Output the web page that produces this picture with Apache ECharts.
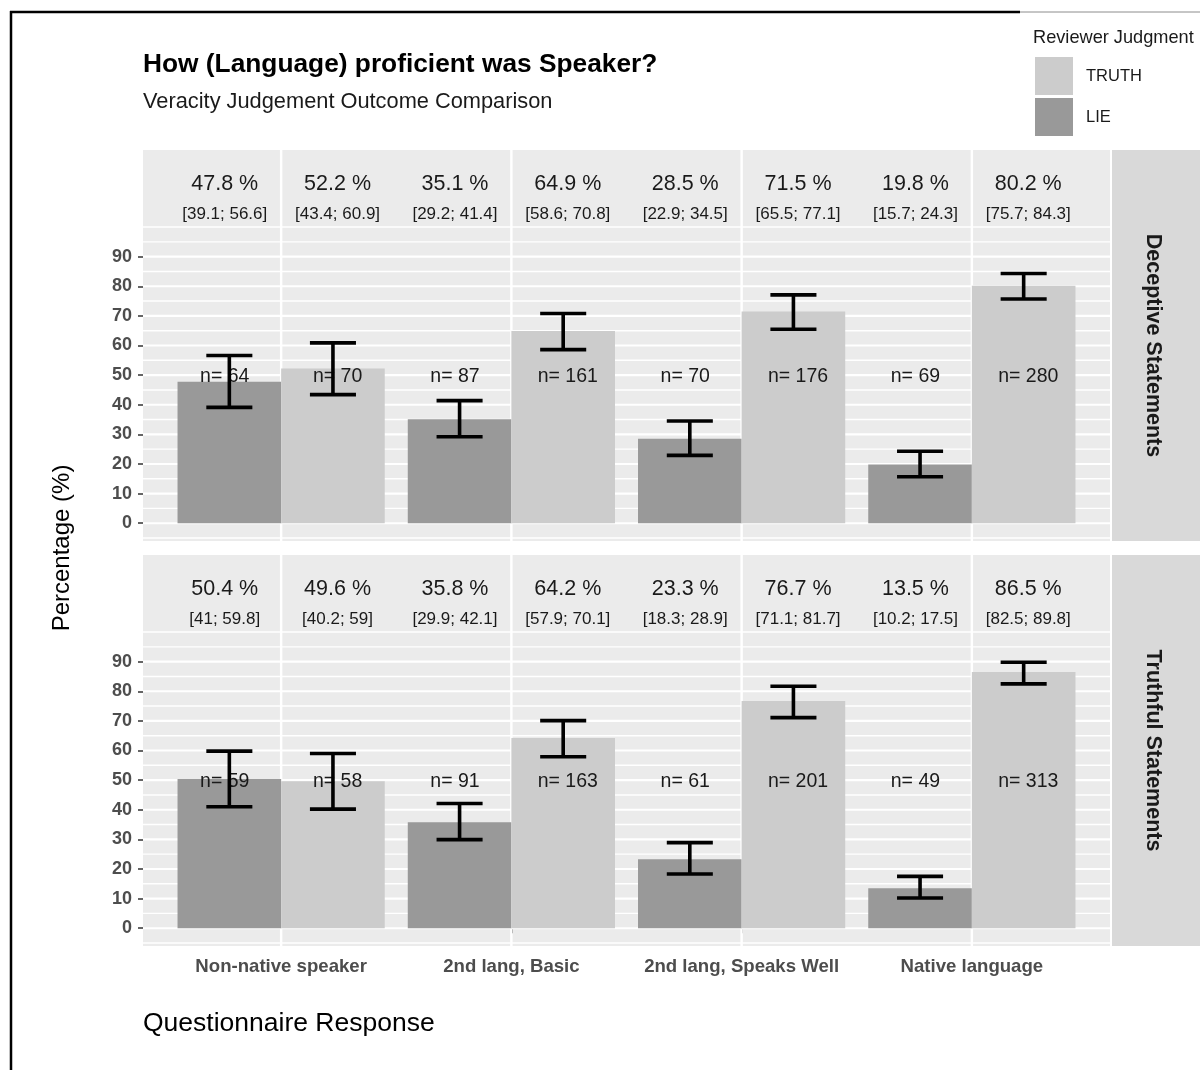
<!DOCTYPE html>
<html>
<head>
<meta charset="utf-8">
<script src="https://cdn.jsdelivr.net/npm/echarts@6/dist/echarts.min.js"></script>
<style>
  html, body { margin: 0; padding: 0; background: #fff; }
  #chart { width: 1200px; height: 1070px; }
</style>
</head>
<body>
<div id="chart"></div>
<script>
// ---- data -------------------------------------------------------------
const categories = ['Non-native speaker', '2nd lang, Basic', '2nd lang, Speaks Well', 'Native language'];
const panelNames = ['Deceptive Statements', 'Truthful Statements'];

// Deceptive statements panel
const decLiePct   = [47.8, 35.1, 28.5, 19.8];
const decLieLow   = [39.1, 29.2, 22.9, 15.7];
const decLieHigh  = [56.6, 41.4, 34.5, 24.3];
const decLieN     = [64, 87, 70, 69];
const decTruthPct  = [52.2, 64.9, 71.5, 80.2];
const decTruthLow  = [43.4, 58.6, 65.5, 75.7];
const decTruthHigh = [60.9, 70.8, 77.1, 84.3];
const decTruthN    = [70, 161, 176, 280];

// Truthful statements panel
const truLiePct   = [50.4, 35.8, 23.3, 13.5];
const truLieLow   = [41, 29.9, 18.3, 10.2];
const truLieHigh  = [59.8, 42.1, 28.9, 17.5];
const truLieN     = [59, 91, 61, 49];
const truTruthPct  = [49.6, 64.2, 76.7, 86.5];
const truTruthLow  = [40.2, 57.9, 71.1, 82.5];
const truTruthHigh = [59, 70.1, 81.7, 89.8];
const truTruthN    = [58, 163, 201, 313];

// axis breaks
const yTicks = [0, 10, 20, 30, 40, 50, 60, 70, 80, 90];
const yMinorBreaks = [-5, 5, 15, 25, 35, 45, 55, 65, 75, 85, 95, 100];
const xPositions = [1, 2, 3, 4];

// ---- styling ------------------------------------------------------------
const FONT = "'Liberation Sans', Arial, Helvetica, sans-serif";
const LIE_COLOR = '#999999';
const TRUTH_COLOR = '#cccccc';
const PANEL_BG = '#ebebeb';
const STRIP_BG = '#d9d9d9';
const TEXT_DARK = '#1a1a1a';
const AXIS_TEXT = '#4d4d4d';

const Y_MIN = -6, Y_MAX = 126;
const X_MIN = 0.4, X_MAX = 4.6;
const BAR_W = 0.45;      // each bar of a dodged pair
const CAP_W = 0.2;       // error bar cap width
const TEXT_DODGE = 0.245; // text labels are dodged slightly wider than the bars
const PCT_Y = 114.5;     // where the percentage label sits
const CI_Y = 104.3;      // where the interval label sits
const N_Y = 49.4;        // where the sample-size label sits

const PANEL_LEFT = 143, PANEL_W = 967, PANEL_H = 391;
const PANEL_TOPS = [150, 555];

function zip(pct, low, high, n) {
  return pct.map((v, i) => [xPositions[i], v, low[i], high[i], n[i]]);
}

function barRenderer(side) {
  return function (params, api) {
    const base = api.value(0);
    const x = base + side * BAR_W / 2;
    const v = api.value(1);
    const lo = api.value(2);
    const hi = api.value(3);
    const n = api.value(4);
    const color = api.visual('color');
    const tl = api.coord([x - BAR_W / 2, v]);
    const br = api.coord([x + BAR_W / 2, 0]);
    const cx = api.coord([x, 0])[0];
    const tx = api.coord([base + side * TEXT_DODGE, 0])[0];
    const capL = api.coord([x - CAP_W / 2, 0])[0];
    const capR = api.coord([x + CAP_W / 2, 0])[0];
    const yLo = api.coord([x, lo])[1];
    const yHi = api.coord([x, hi])[1];
    const ebStyle = { stroke: '#000', lineWidth: 3.6, lineCap: 'butt' };
    return {
      type: 'group',
      children: [
        { type: 'rect', shape: { x: tl[0], y: tl[1], width: br[0] - tl[0], height: br[1] - tl[1] },
          style: { fill: color } },
        { type: 'text', style: { text: 'n= ' + n, x: tx, y: api.coord([x, N_Y])[1],
          align: 'center', verticalAlign: 'middle', font: '19.5px ' + FONT, fill: TEXT_DARK } },
        { type: 'line', shape: { x1: cx, y1: yLo, x2: cx, y2: yHi }, style: ebStyle },
        { type: 'line', shape: { x1: capL, y1: yLo, x2: capR, y2: yLo }, style: ebStyle },
        { type: 'line', shape: { x1: capL, y1: yHi, x2: capR, y2: yHi }, style: ebStyle },
        { type: 'text', style: { text: v + ' %', x: tx, y: api.coord([x, PCT_Y])[1],
          align: 'center', verticalAlign: 'middle', font: '21.5px ' + FONT, fill: TEXT_DARK } },
        { type: 'text', style: { text: '[' + lo + '; ' + hi + ']', x: tx, y: api.coord([x, CI_Y])[1],
          align: 'center', verticalAlign: 'middle', font: '17px ' + FONT, fill: TEXT_DARK } }
      ]
    };
  };
}

// white panel grid lines drawn through the axis scales
function gridLineRenderer(kind) {
  return function (params, api) {
    const v = api.value(0);
    let p0, p1, w;
    if (kind === 'v') {
      p0 = api.coord([v, Y_MIN]); p1 = api.coord([v, Y_MAX]); w = 2.4;
    } else {
      p0 = api.coord([X_MIN, v]); p1 = api.coord([X_MAX, v]); w = kind === 'major' ? 2.2 : 1.4;
    }
    return { type: 'line', shape: { x1: p0[0], y1: p0[1], x2: p1[0], y2: p1[1] },
      style: { stroke: '#ffffff', lineWidth: w } };
  };
}

const grids = PANEL_TOPS.map(top => ({
  left: PANEL_LEFT, top: top, width: PANEL_W, height: PANEL_H,
  show: true, backgroundColor: PANEL_BG, borderWidth: 0
}));

const xAxes = [0, 1].map(g => ({
  type: 'value', gridIndex: g, min: X_MIN, max: X_MAX,
  splitLine: { show: false }, axisLine: { show: false },
  axisTick: { show: g === 1, customValues: xPositions, length: 5, lineStyle: { color: '#333', width: 1.5 } },
  axisLabel: {
    show: g === 1, customValues: xPositions, margin: 11,
    formatter: v => categories[Math.round(v) - 1],
    color: AXIS_TEXT, fontWeight: 'bold', fontSize: 18.6, fontFamily: FONT
  }
}));

const yAxes = [0, 1].map(g => ({
  type: 'value', gridIndex: g, min: Y_MIN, max: Y_MAX,
  splitLine: { show: false }, axisLine: { show: false },
  axisTick: { show: true, customValues: yTicks, length: 5, lineStyle: { color: '#333', width: 1.5 } },
  axisLabel: { customValues: yTicks, margin: 11, color: AXIS_TEXT, fontWeight: 'bold', fontSize: 18, fontFamily: FONT }
}));

const panelSeries = [
  { lie: zip(decLiePct, decLieLow, decLieHigh, decLieN), truth: zip(decTruthPct, decTruthLow, decTruthHigh, decTruthN) },
  { lie: zip(truLiePct, truLieLow, truLieHigh, truLieN), truth: zip(truTruthPct, truTruthLow, truTruthHigh, truTruthN) }
];

const series = [];
[0, 1].forEach(g => {
  series.push(
    { type: 'custom', name: 'grid-major', xAxisIndex: g, yAxisIndex: g, z: 1, silent: true,
      renderItem: gridLineRenderer('major'), data: yTicks.map(v => [v]) },
    { type: 'custom', name: 'grid-minor', xAxisIndex: g, yAxisIndex: g, z: 1, silent: true,
      renderItem: gridLineRenderer('minor'), data: yMinorBreaks.map(v => [v]) },
    { type: 'custom', name: 'grid-x', xAxisIndex: g, yAxisIndex: g, z: 1, silent: true,
      renderItem: gridLineRenderer('v'), data: xPositions.map(v => [v]) },
    { type: 'custom', name: 'LIE', xAxisIndex: g, yAxisIndex: g, z: 3,
      itemStyle: { color: LIE_COLOR }, renderItem: barRenderer(-1),
      encode: { x: 0, y: 1 }, data: panelSeries[g].lie },
    { type: 'custom', name: 'TRUTH', xAxisIndex: g, yAxisIndex: g, z: 3,
      itemStyle: { color: TRUTH_COLOR }, renderItem: barRenderer(1),
      encode: { x: 0, y: 1 }, data: panelSeries[g].truth }
  );
});

const graphics = [
  // outer frame
  { type: 'line', shape: { x1: 10, y1: 12, x2: 1020, y2: 12 }, style: { stroke: '#000', lineWidth: 2.5 } },
  { type: 'line', shape: { x1: 1020, y1: 12, x2: 1200, y2: 12 }, style: { stroke: '#8c8c8c', lineWidth: 1 } },
  { type: 'line', shape: { x1: 11, y1: 11, x2: 11, y2: 1070 }, style: { stroke: '#000', lineWidth: 2.5 } },
  // legend title
  { type: 'text', x: 1033, y: 38, style: { text: 'Reviewer Judgment', font: '18.2px ' + FONT, fill: TEXT_DARK,
    align: 'left', verticalAlign: 'middle' } },
  // axis titles
  { type: 'text', x: 62, y: 548, rotation: Math.PI / 2,
    style: { text: 'Percentage (%)', font: '24px ' + FONT, fill: '#000', align: 'center', verticalAlign: 'middle' } },
  { type: 'text', x: 143, y: 1024,
    style: { text: 'Questionnaire Response', font: '26.5px ' + FONT, fill: '#000', align: 'left', verticalAlign: 'middle' } }
];
PANEL_TOPS.forEach((top, i) => {
  graphics.push(
    { type: 'rect', shape: { x: PANEL_LEFT + PANEL_W + 2, y: top, width: 1200 - (PANEL_LEFT + PANEL_W + 2), height: PANEL_H },
      style: { fill: STRIP_BG } },
    { type: 'text', x: 1153, y: top + PANEL_H / 2, rotation: -Math.PI / 2,
      style: { text: panelNames[i], font: 'bold 21.5px ' + FONT, fill: TEXT_DARK, align: 'center', verticalAlign: 'middle' } }
  );
});

const chart = echarts.init(document.getElementById('chart'), null, { renderer: 'canvas' });
chart.setOption({
  backgroundColor: '#ffffff',
  animation: false,
  title: [
    { text: 'How (Language) proficient was Speaker?', left: 143, top: 52, padding: 0,
      textStyle: { fontSize: 26.3, fontWeight: 'bold', color: '#000', fontFamily: FONT } },
    { text: 'Veracity Judgement Outcome Comparison', left: 143, top: 91, padding: 0,
      textStyle: { fontSize: 21.8, fontWeight: 'normal', color: TEXT_DARK, fontFamily: FONT } }
  ],
  legend: {
    data: ['TRUTH', 'LIE'], orient: 'vertical', left: 1035, top: 57, padding: 0,
    itemWidth: 38, itemHeight: 38, itemGap: 3, icon: 'rect', selectedMode: false,
    textStyle: { fontSize: 16.5, color: TEXT_DARK, fontFamily: FONT, padding: [0, 0, 0, 8] }
  },
  grid: grids,
  xAxis: xAxes,
  yAxis: yAxes,
  series: series,
  graphic: graphics
});
</script>
</body>
</html>
